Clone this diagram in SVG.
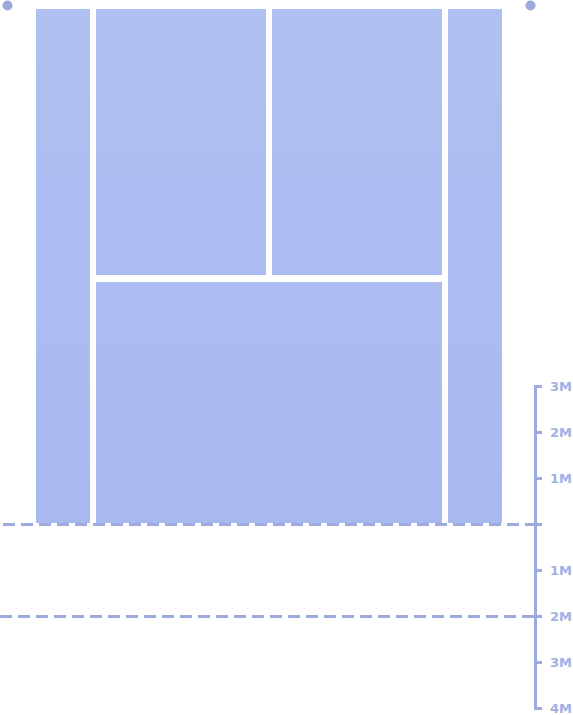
<svg xmlns="http://www.w3.org/2000/svg" width="573" height="715" viewBox="0 0 573 715">
<style>
.blk{fill:url(#g)}
.dot{fill:#9DAADE}
.ax{stroke:#9DAADE;stroke-width:3;fill:none}
.dash{stroke:#9DAADE;stroke-width:3;stroke-dasharray:12 6;fill:none}
.lbl{font-family:"DejaVu Sans",sans-serif;font-weight:bold;font-size:13px;fill:#A3B0E2}
</style>
<defs>
<linearGradient id="g" gradientUnits="userSpaceOnUse" x1="0" y1="9" x2="0" y2="523">
<stop offset="0" stop-color="#B0C0F2"/>
<stop offset="1" stop-color="#A9B8EF"/>
</linearGradient>
</defs>
<g id="dots">
<circle class="dot" cx="7.5" cy="5.5" r="5"/>
<circle class="dot" cx="530.5" cy="5.5" r="5"/>
</g>
<g id="b1"><rect class="blk" x="36" y="9" width="54" height="514"/></g>
<g id="b2"><rect class="blk" x="96" y="9" width="170" height="266"/></g>
<g id="b3"><rect class="blk" x="272" y="9" width="170" height="266"/></g>
<g id="b4"><rect class="blk" x="96" y="282" width="346" height="241"/></g>
<g id="b5"><rect class="blk" x="448" y="9" width="54" height="514"/></g>
<g id="connectors">
<line class="dash" x1="3" y1="524.5" x2="542" y2="524.5"/>
<line class="dash" x1="0" y1="616.5" x2="542" y2="616.5"/>
<path class="ax" d="M535.5 386V708M534 386.5H542M534 432.5H542M534 478.5H542M534 524.5H542M534 570.5H542M534 616.5H542M534 662.5H542M534 708.5H542"/>
</g>
<g id="labels">
<text class="lbl" x="550" y="391">3M</text>
<text class="lbl" x="550" y="437">2M</text>
<text class="lbl" x="550" y="483">1M</text>
<text class="lbl" x="550" y="575">1M</text>
<text class="lbl" x="550" y="621">2M</text>
<text class="lbl" x="550" y="667">3M</text>
<text class="lbl" x="550" y="713">4M</text>
</g>
</svg>
